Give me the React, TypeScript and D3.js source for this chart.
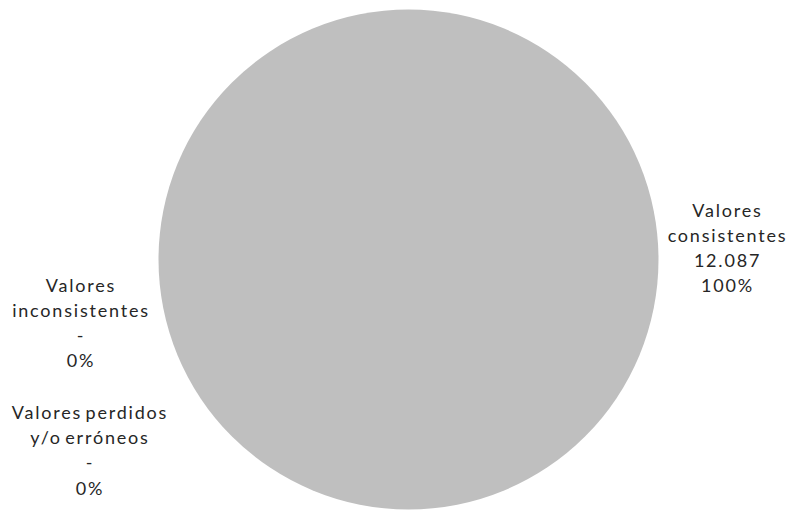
import React from "react";
import * as d3 from "d3";

const categories = ["Valores consistentes", "Valores inconsistentes", "Valores perdidos y/o erróneos"];
const values = [12087, 0, 0];
const valueLabels = ["12.087", "-", "-"];
const percentLabels = ["100%", "0%", "0%"];
const labelLines = [
  ["Valores", "consistentes", "12.087", "100%"],
  ["Valores", "inconsistentes", "-", "0%"],
  ["Valores perdidos", "y/o erróneos", "-", "0%"],
];
const colors = ["#BFBFBF", "#A5A5A5", "#7F7F7F"];

const W = 789, H = 510;
const cx = 408.5, cy = 259.5, R = 250;
const LS = 1.8;
// label anchor positions (layout)
const labelPos = [
  { x: 727.5, y: 212 },
  { x: 81, y: 287 },
  { x: 90, y: 414 },
];

export default function App() {
  const pie = d3.pie<number>().sort(null).value((d) => d)(values);
  const arc = d3.arc<d3.PieArcDatum<number>>().innerRadius(0).outerRadius(R);
  return (
    <svg width={W} height={H} style={{ position: "absolute", left: 0, top: 0 }}>
      <rect width={W} height={H} fill="#fff" />
      <g transform={`translate(${cx},${cy})`}>
        {pie.map((p, i) =>
          p.endAngle - p.startAngle > 0 ? (
            <path key={i} d={arc(p) || ""} fill={colors[i]} />
          ) : null
        )}
      </g>
      {labelLines.map((lines, i) => (
        <text
          key={i}
          x={labelPos[i].x}
          y={labelPos[i].y}
          textAnchor="middle"
          fontFamily="Lato, 'Open Sans', sans-serif"
          fontSize={18}
          fill="#262626"
          dominantBaseline="middle"
          letterSpacing={LS}
          wordSpacing={-3}
        >
          {lines.map((l, j) => (
            <tspan key={j} x={labelPos[i].x} dy={j === 0 ? 0 : i === 2 ? [25, 25, 26][j - 1] : 25}>
              {l}
            </tspan>
          ))}
        </text>
      ))}
    </svg>
  );
}
